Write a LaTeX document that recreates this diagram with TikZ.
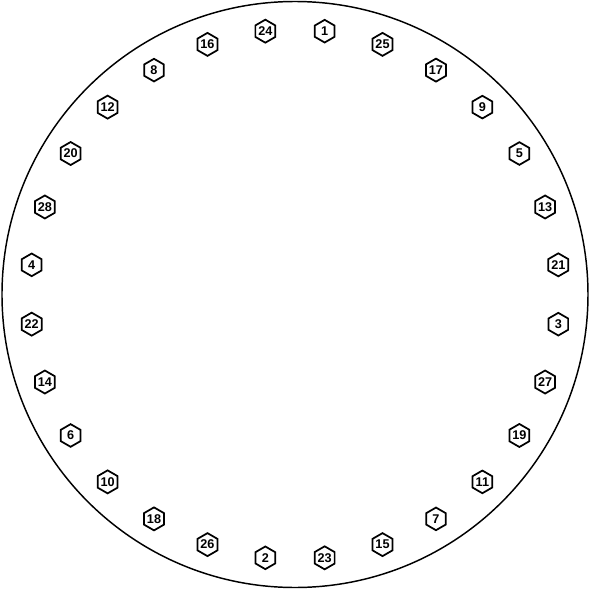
\documentclass[tikz,border=0pt]{standalone}
\usepackage{fontspec}
\setmainfont{Liberation Sans}
\usepackage{tikz}
\usetikzlibrary{shapes.geometric}
\tikzset{bolt/.style={draw=black,line width=1.3pt,regular polygon,regular polygon sides=6,
    shape border rotate=30,minimum size=17pt,inner sep=0pt,font=\fontsize{9.5}{10}\selectfont\bfseries}}
\tikzset{rim/.style={draw=black,line width=1.1pt}}

\begin{document}
\begin{tikzpicture}[x=0.75pt,y=0.75pt]
        \useasboundingbox (-295,-295.5) rectangle (295,294.5);
        \draw[rim] (0,0) circle (293);

        % bolt order, clockwise from the top
        \foreach \n [count=\i from 0] in {1,25,17,9,5,13,21,3,27,19,11,7,15,23,
                2,26,18,10,6,14,22,4,28,20,12,8,16,24}
            \node[bolt] (b\n) at ({83.5714-\i*360/28}:265) {\n};
    \end{tikzpicture}
\end{document}
